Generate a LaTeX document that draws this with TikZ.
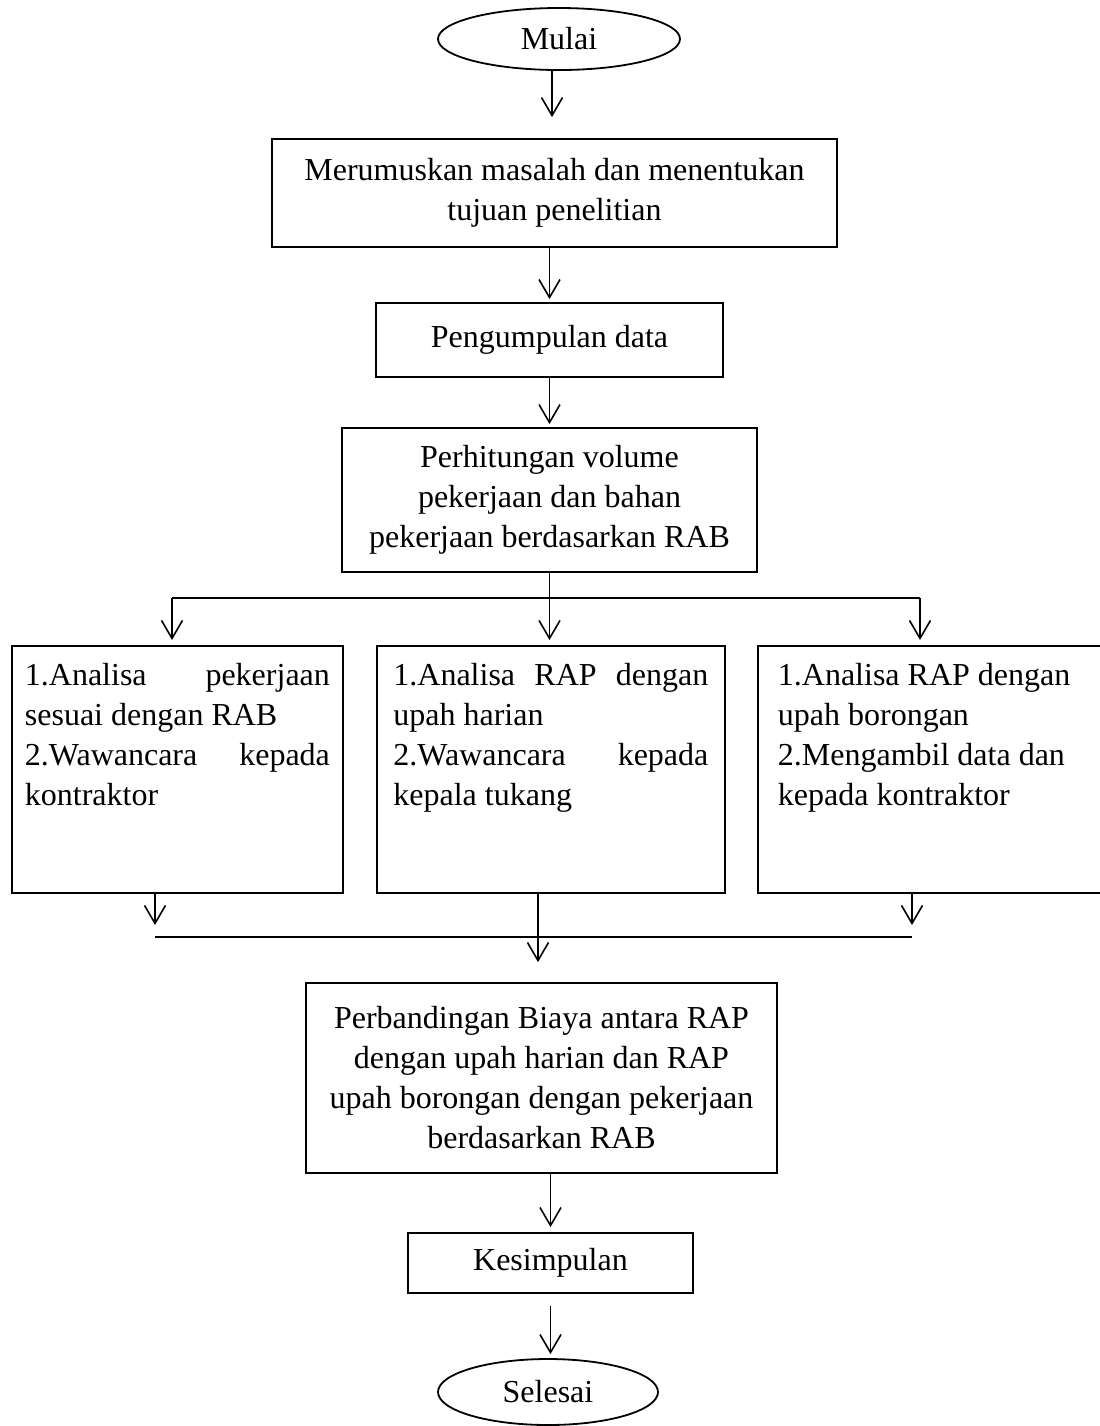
\documentclass[tikz,border=0pt]{standalone}
\usepackage{fontspec}
\setmainfont{Liberation Serif}
\usetikzlibrary{shapes.geometric,arrows.meta,calc}
\newcommand{\spreadline}[1]{\makebox[\hsize][s]{#1}}

\begin{document}
\begin{tikzpicture}[x=0.5pt, y=-0.5pt,
process/.style={rectangle, draw, line width=0.9pt, align=center, inner sep=0pt, font=\fontsize{16}{20}\selectfont},
terminal/.style={ellipse, draw, line width=0.9pt, inner sep=0pt, font=\fontsize{16}{20}\selectfont},
analysis/.style={rectangle, draw, line width=0.9pt, anchor=north west, inner ysep=0pt, font=\fontsize{16}{20}\selectfont},
flow/.style={line width=0.8pt, -{Straight Barb[length=9pt, width=10.5pt]}}
  ]
  \useasboundingbox (0,0) rectangle (1099,1426);

  \node[terminal, minimum width=121pt, minimum height=31pt] (mulai) at (559,39) {Mulai};
  \node[process, minimum width=282.5pt, minimum height=54pt] (rumus) at (554.5,193) {Merumuskan masalah dan menentukan\\ tujuan penelitian};
  \node[process, minimum width=173.5pt, minimum height=37pt] (data) at (549.5,340) {Pengumpulan data};
  \node[process, minimum width=207.5pt, minimum height=72pt] (hitung) at (549.5,500) {Perhitungan volume\\ pekerjaan dan bahan\\ pekerjaan berdasarkan RAB};

  \node[analysis, inner xsep=6.5pt] (rab) at (11,645) {\parbox[c][123.5pt][t]{152.5pt}{\rule{0pt}{20pt}\spreadline{1.Analisa pekerjaan}\\ sesuai dengan RAB\\ \spreadline{2.Wawancara kepada}\\ kontraktor}};
  \node[analysis, inner xsep=8.25pt] (harian) at (376,645) {\parbox[c][123.5pt][t]{157.5pt}{\rule{0pt}{20pt}\spreadline{1.Analisa RAP dengan}\\ upah harian\\ \spreadline{2.Wawancara kepada}\\ kepala tukang}};
  \node[analysis, inner xsep=10pt] (borongan) at (757,645) {\parbox[c][123.5pt][t]{152pt}{\rule{0pt}{20pt}1.Analisa RAP dengan\\ upah borongan\\ 2.Mengambil data dan\\ kepada kontraktor}};

  \node[process, minimum width=235.5pt, minimum height=95pt] (banding) at (541.5,1078) {Perbandingan Biaya antara RAP\\ dengan upah harian dan RAP\\ upah borongan dengan pekerjaan\\ berdasarkan RAB};
  \node[process, minimum width=142.5pt, minimum height=30pt] (simpul) at (550.5,1263) {Kesimpulan};
  \node[terminal, minimum width=110pt, minimum height=33pt] (selesai) at (548,1392) {Selesai};

  % cabang dan gabungan
  \coordinate (sl) at (172,598);
  \coordinate (sr) at (920,598);
  \coordinate (jl) at (155,937);
  \coordinate (jr) at (912,937);
  \coordinate (jm) at (538,937);

  \draw[flow, shorten >=10.5pt] ([xshift=-3.5pt]mulai.south) -- ([xshift=-3.5pt]mulai.south |- rumus.north);
  \draw[flow, shorten >=1.5pt] (rumus.south -| data) -- (data.north);
  \draw[flow, shorten >=1.5pt] (data.south) -- (hitung.north);

  \draw[line width=0.8pt] (hitung.south) -- (hitung.south |- sl);
  \draw[line width=0.8pt] (sl) -- (sr);
  \draw[flow, shorten >=2.5pt] (sl) -- (sl |- rab.north);
  \draw[flow, shorten >=2.5pt] (hitung.south |- sl) -- (hitung.south |- harian.north);
  \draw[flow, shorten >=2.5pt] (sr) -- (sr |- borongan.north);

  \draw[flow, shorten >=6pt] (jl |- rab.south) -- (jl);
  \draw[flow, shorten >=6pt] (jr |- borongan.south) -- (jr);
  \draw[line width=0.8pt] (jl) -- (jr);
  \draw[flow, shorten >=10pt] (jm |- harian.south) -- (jm |- banding.north);

  \draw[flow, shorten >=2.5pt] (banding.south -| simpul) -- (simpul.north);
  \draw[flow, shorten <=6pt, shorten >=2pt] (simpul.south) -- (simpul.south |- selesai.north);
\end{tikzpicture}
\end{document}
